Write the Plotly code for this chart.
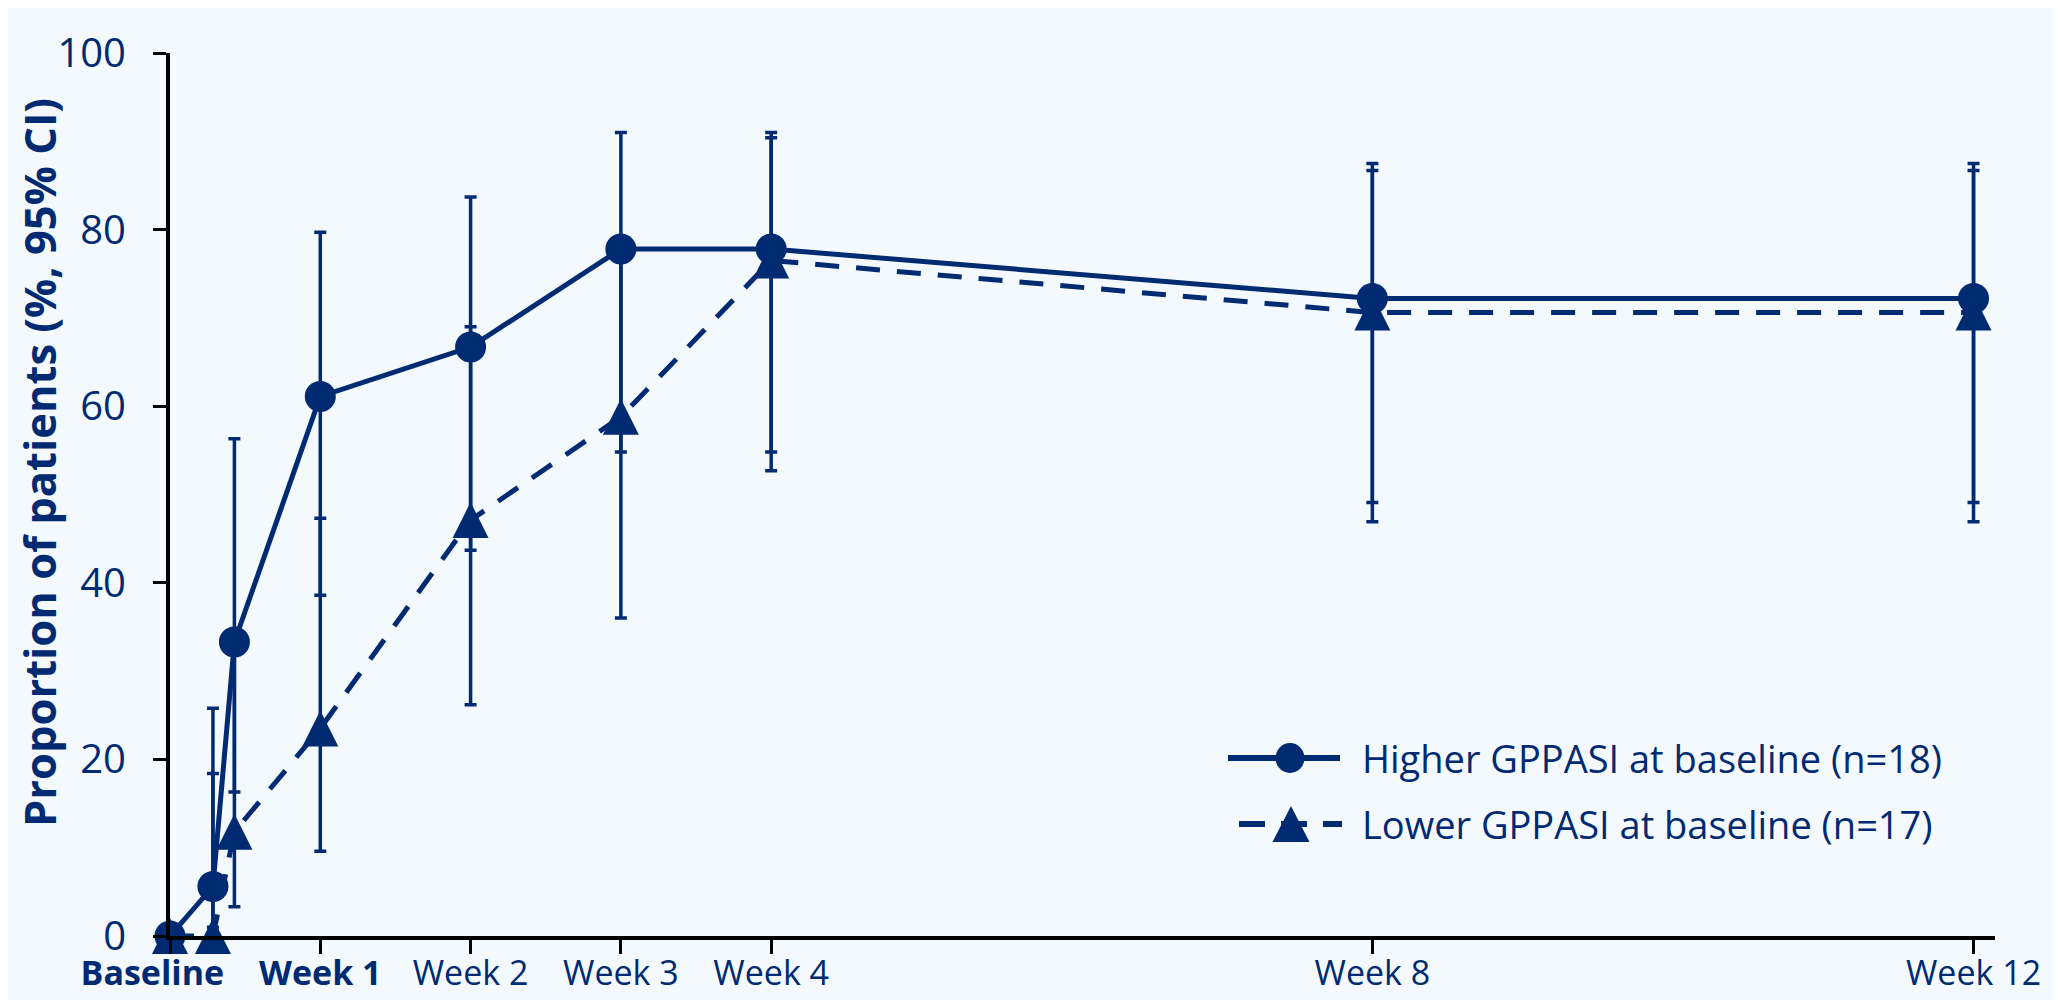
import plotly.graph_objects as go

# ---- data ----
days = [0, 2, 3, 7, 14, 21, 28, 56, 84]

higher = [0, 5.6, 33.3, 61.1, 66.7, 77.8, 77.8, 72.2, 72.2]
higher_lo = [0, 1.0, 16.3, 38.6, 43.7, 54.8, 54.8, 49.1, 49.1]
higher_hi = [0, 25.8, 56.3, 79.7, 83.7, 91.0, 91.0, 87.5, 87.5]

lower = [0, 0, 11.8, 23.5, 47.1, 58.8, 76.5, 70.6, 70.6]
lower_lo = [0, 0, 3.3, 9.6, 26.2, 36.0, 52.7, 46.9, 46.9]
lower_hi = [0, 18.4, 34.3, 47.3, 69.0, 78.4, 90.4, 86.7, 86.7]

tick_days = [0, 7, 14, 21, 28, 56, 84]
tick_text = ["<b>Baseline</b>" + "\u00a0" * 4, "<b>Week 1</b>", "Week 2", "Week 3",
             "Week 4", "Week 8", "Week 12"]
y_ticks = [0, 20, 40, 60, 80, 100]

name_hi = "Higher GPPASI at baseline (n=18)"
name_lo = "Lower GPPASI at baseline (n=17)"

NAVY = "#002A72"
BG = "#F4F9FD"
FONT = "Open Sans"

# ---- layout geometry (page has an 8px body margin) ----
W, H = 2053, 992
ML, MR, MT, MB = 162, 66, 45, 64
PW, PH = W - ML - MR, H - MT - MB
OFF = 8


def px(sx, sy):
    """screen pixel -> paper coords"""
    return (sx - OFF - ML) / PW, 1 - (sy - OFF - MT) / PH


def err_plus(v, hi):
    return [h - x for x, h in zip(v, hi)]


def err_minus(v, lo):
    return [x - l for x, l in zip(v, lo)]


fig = go.Figure()

fig.add_trace(go.Scatter(
    x=days, y=lower, name=name_lo, mode="lines+markers",
    line=dict(color=NAVY, width=5, dash="24px,17px"),
    marker=dict(symbol="arrow-down", angle=180, standoff=18, size=36, color=NAVY,
                line=dict(width=0)),
    error_y=dict(type="data", array=err_plus(lower, lower_hi),
                 arrayminus=err_minus(lower, lower_lo),
                 color=NAVY, thickness=3.5, width=6),
    cliponaxis=False, showlegend=False,
))

fig.add_trace(go.Scatter(
    x=days, y=higher, name=name_hi, mode="lines+markers",
    line=dict(color=NAVY, width=5),
    marker=dict(symbol="circle", size=31, color=NAVY, line=dict(width=0)),
    error_y=dict(type="data", array=err_plus(higher, higher_hi),
                 arrayminus=err_minus(higher, higher_lo),
                 color=NAVY, thickness=3.5, width=6),
    cliponaxis=False, showlegend=False,
))

# ---- custom legend (long line samples like the original) ----
shapes = []
annotations = []
r1y, r2y = 758, 824
ax0, ay0 = px(1228, r1y)
ax1, _ = px(1340, r1y)
shapes.append(dict(type="line", xref="paper", yref="paper", x0=ax0, x1=ax1, y0=ay0, y1=ay0,
                   line=dict(color=NAVY, width=6)))
cx, cy = px(1290, r1y)
shapes.append(dict(type="circle", xref="paper", yref="paper", xsizemode="pixel",
                   ysizemode="pixel", xanchor=cx, yanchor=cy, x0=-14.5, x1=14.5,
                   y0=-15, y1=15, fillcolor=NAVY, line=dict(width=0)))
bx0, by0 = px(1239, r2y)
bx1, _ = px(1342, r2y)
shapes.append(dict(type="line", xref="paper", yref="paper", x0=bx0, x1=bx1, y0=by0, y1=by0,
                   line=dict(color=NAVY, width=6, dash="26px,16px")))
tx, ty = px(1291, r2y)
shapes.append(dict(type="path", xref="paper", yref="paper", xsizemode="pixel",
                   ysizemode="pixel", xanchor=tx, yanchor=ty,
                   path="M-18.5,-18L18.5,-18L0,18Z", fillcolor=NAVY, line=dict(width=0)))
for label, yy in [(name_hi, r1y), (name_lo, r2y)]:
    lx, ly = px(1360, yy)
    annotations.append(dict(text=label, xref="paper", yref="paper", x=lx, y=ly,
                            xanchor="left", yanchor="middle", showarrow=False,
                            font=dict(family=FONT, size=38, color=NAVY)))

# y-axis title
yx, yy = px(39, 463)
annotations.append(dict(
    text="<b>Proportion of patients (%, 95% CI)</b>", textangle=-90,
    xref="paper", yref="paper", x=yx, y=yy,
    xanchor="center", yanchor="middle", showarrow=False,
    font=dict(family=FONT, size=43.5, color=NAVY)))

fig.update_layout(
    width=W, height=H,
    margin=dict(l=ML, r=MR, t=MT, b=MB, autoexpand=False),
    paper_bgcolor=BG, plot_bgcolor=BG,
    font=dict(family=FONT, color=NAVY),
    showlegend=False,
    xaxis=dict(range=[0, 85], tickmode="array", tickvals=tick_days, ticktext=tick_text,
               tickangle=0,
               showgrid=False, zeroline=False, showline=True, linecolor="black",
               linewidth=4, ticks="outside", ticklen=14, tickwidth=3, tickcolor="black",
               ticklabelstandoff=-10,
               tickfont=dict(family=FONT, size=34, color=NAVY)),
    yaxis=dict(range=[0, 100], tickmode="array", tickvals=y_ticks,
               showgrid=False, zeroline=False, showline=True, linecolor="black",
               linewidth=4, ticks="outside", ticklen=13, tickwidth=3, tickcolor="black",
               ticklabelstandoff=19,
               tickfont=dict(family=FONT, size=40, color=NAVY)),
    shapes=shapes,
    annotations=annotations,
)

fig.write_html("out.html")
